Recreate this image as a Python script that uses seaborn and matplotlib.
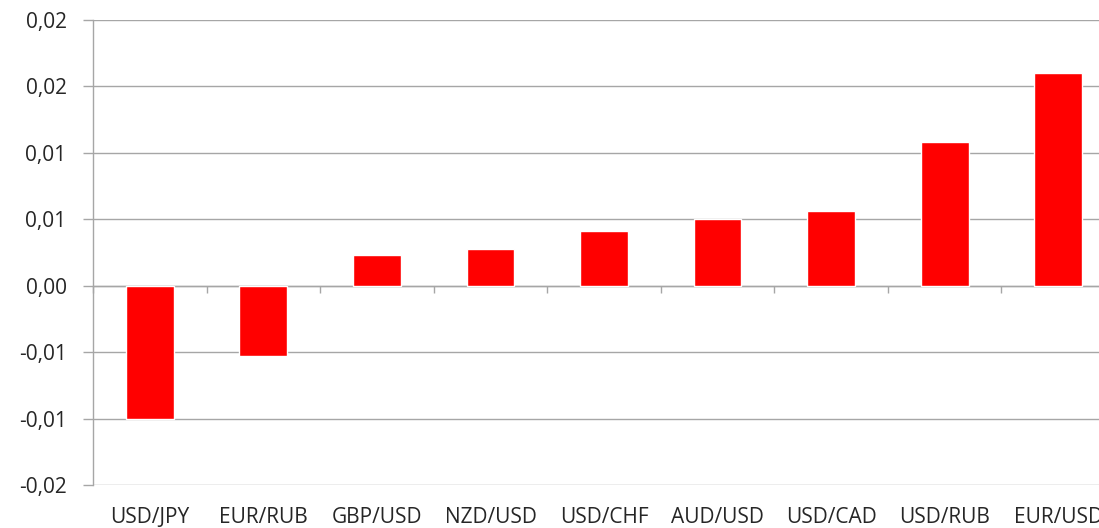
import matplotlib
matplotlib.use("Agg")
import matplotlib.pyplot as plt
import seaborn as sns
import pandas as pd

# data
pairs = ["USD/JPY", "EUR/RUB", "GBP/USD", "NZD/USD", "USD/CHF",
         "AUD/USD", "USD/CAD", "USD/RUB", "EUR/USD"]
change = [-0.0100, -0.0053, 0.0023, 0.0028, 0.0041,
          0.0050, 0.0056, 0.0108, 0.0160]
ytick_vals = [-0.015, -0.010, -0.005, 0.0, 0.005, 0.010, 0.015, 0.020]
ytick_labels = ["-0,02", "-0,01", "-0,01", "0,00", "0,01", "0,01", "0,02", "0,02"]

df = pd.DataFrame({"pair": pairs, "change": change})

sns.set_style("white")
plt.rcParams['font.family'] = ['Open Sans', 'DejaVu Sans']

fig = plt.figure(figsize=(10.99, 5.28), dpi=100)
ax = fig.add_axes([0.0846, 0.0814, 0.93, 0.8806])

sns.barplot(data=df, x="pair", y="change", color="#ff0000", saturation=1,
            width=0.42, ax=ax)

grid_c = "#a6a6a6"
ax.set_ylim(ytick_vals[0], ytick_vals[-1])
ax.set_xlim(-0.5, len(pairs) - 0.5)
ax.set_yticks(ytick_vals)
ax.set_yticklabels(ytick_labels)
ax.yaxis.grid(True, color=grid_c, linewidth=1.0)
ax.set_axisbelow(True)

for s in ["top", "right", "bottom"]:
    ax.spines[s].set_visible(False)
ax.spines["left"].set_color(grid_c)
ax.spines["left"].set_linewidth(1.0)

ax.tick_params(axis="y", length=7, width=1.0, color=grid_c, pad=12,
               labelsize=15, left=True, direction="out")
ax.tick_params(axis="x", length=0, pad=16, labelsize=15)
ax.set_xlabel("")
ax.set_ylabel("")

# category tick marks on the zero line
zero_pos = (0 - ytick_vals[0]) / (ytick_vals[-1] - ytick_vals[0])
sec = ax.secondary_xaxis(zero_pos)
sec.set_xticks([i + 0.5 for i in range(-1, len(pairs))])
sec.set_xticklabels([])
sec.xaxis.set_ticks_position("bottom")
sec.tick_params(axis="x", length=5, width=1.0, color=grid_c, direction="out")
sec.spines["bottom"].set_color(grid_c)
sec.spines["bottom"].set_linewidth(1.0)
for s in ["top", "left", "right"]:
    sec.spines[s].set_visible(False)

fig.savefig("out.png", dpi=100)
